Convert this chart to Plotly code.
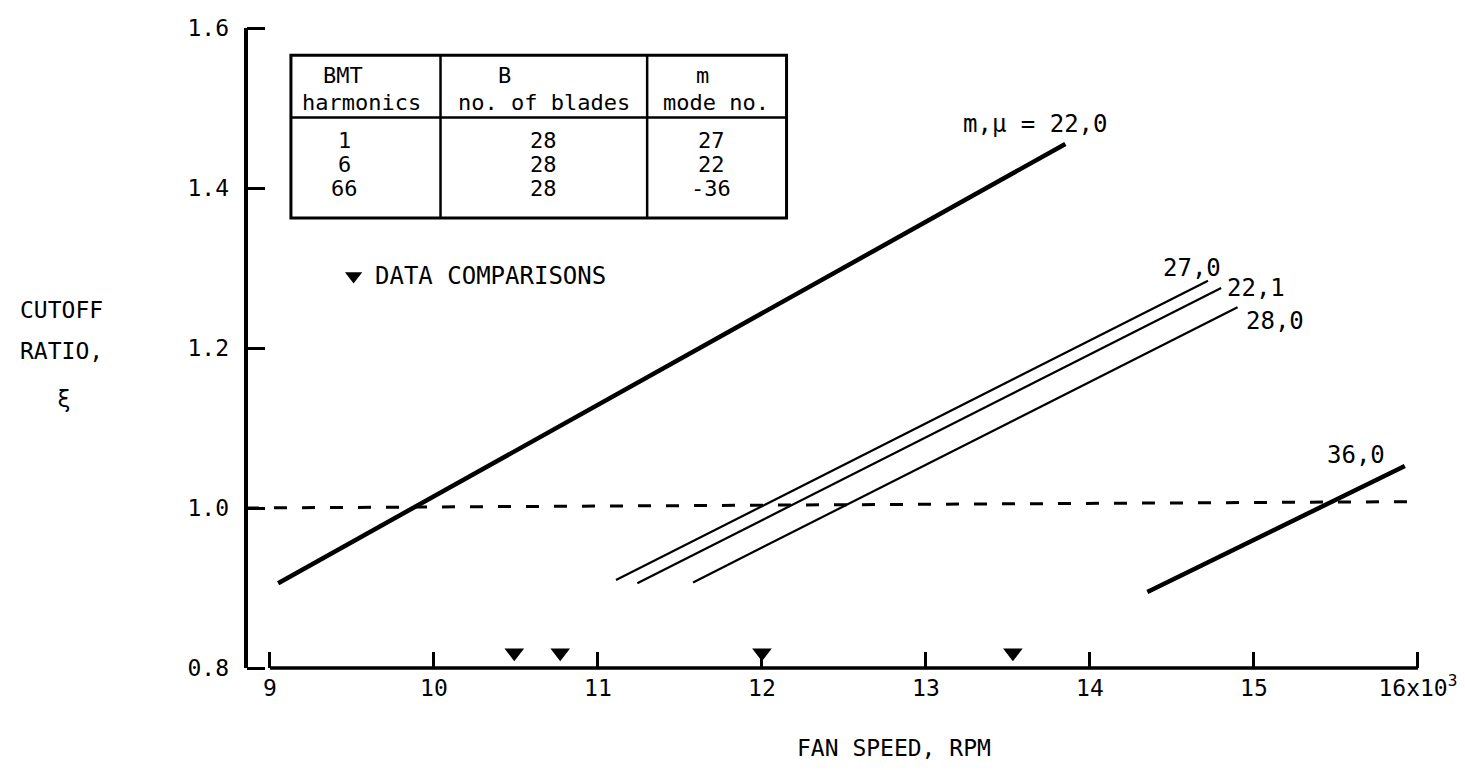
import plotly.graph_objects as go

# cutoff curves, m,mu modes
curve_labels = ["22,0", "27,0", "22,1", "28,0", "36,0"]
x_start = [9.05, 11.11, 11.24, 11.58, 14.35]
y_start = [0.906, 0.910, 0.906, 0.907, 0.895]
x_end = [13.85, 14.72, 14.80, 14.90, 15.92]
y_end = [1.455, 1.284, 1.275, 1.251, 1.0525]
thick = [True, False, False, False, True]

# cutoff ratio = 1 reference (dashed)
cut_x = [8.854, 15.99]
cut_y = [1.0, 1.008]

# data comparison speeds (x10^3 rpm)
data_x = [10.49, 10.77, 12.0, 13.53]
data_y = [0.819, 0.819, 0.819, 0.819]

x_ticks = [9, 10, 11, 12, 13, 14, 15, 16]
x_ticktext = ["9", "10", "11", "12", "13", "14", "15", "16x10<sup>3</sup>"]
y_ticks = [0.8, 1.0, 1.2, 1.4, 1.6]

# table
tbl_head1 = ["BMT", "B", "m"]
tbl_head2 = ["harmonics", "no. of blades", "mode no."]
tbl_harm = ["1", "6", "66"]
tbl_blades = ["28", "28", "28"]
tbl_mode = ["27", "22", "-36"]

FONT = "DejaVu Sans Mono"
XR = [8.7991, 16.2137]
YR = [0.775, 1.62]
X_AXIS_AT = 8.854
Y_AXIS_AT = 0.8

fig = go.Figure()

fig.add_trace(go.Scatter(x=cut_x, y=cut_y, mode="lines",
                         line=dict(color="black", width=3, dash="13px,15px"),
                         hoverinfo="skip", showlegend=False))

for i in range(len(curve_labels)):
    fig.add_trace(go.Scatter(x=[x_start[i], x_end[i]], y=[y_start[i], y_end[i]],
                             mode="lines", name=curve_labels[i],
                             line=dict(color="black", width=4.5 if thick[i] else 2.2),
                             showlegend=False))

fig.add_trace(go.Scatter(x=data_x, y=data_y, mode="markers",
                         marker=dict(symbol="triangle-down", size=17, color="black"),
                         name="DATA COMPARISONS", showlegend=False))

# key marker
fig.add_trace(go.Scatter(x=[9.51], y=[1.29], mode="markers",
                         marker=dict(symbol="triangle-down", size=15, color="black"),
                         hoverinfo="skip", showlegend=False))
fig.add_annotation(x=9.63, y=1.29, text="DATA COMPARISONS", showarrow=False,
                   xanchor="left", yanchor="middle", font=dict(size=24))

# curve labels
lab_pos = [(13.67, 1.48, "m,\u03bc = 22,0"), (14.62, 1.30, "27,0"), (15.01, 1.275, "22,1"),
           (15.13, 1.234, "28,0"), (15.62, 1.066, "36,0")]
for x, y, t in lab_pos:
    fig.add_annotation(x=x, y=y, text=t, showarrow=False, font=dict(size=24))

# axis lines drawn with a gap at the corner like the original
fig.add_shape(type="line", x0=X_AXIS_AT, x1=X_AXIS_AT, y0=y_ticks[0], y1=y_ticks[-1],
              line=dict(color="black", width=4))
fig.add_shape(type="line", x0=x_ticks[0], x1=x_ticks[-1], y0=Y_AXIS_AT, y1=Y_AXIS_AT,
              line=dict(color="black", width=3.5))

# table box
tx0, tx1, ty0, ty1 = 9.128, 12.15, 1.3625, 1.566
col_a, col_b, head_y = 10.04, 11.30, 1.488
fig.add_shape(type="rect", x0=tx0, x1=tx1, y0=ty0, y1=ty1, line=dict(color="black", width=3))
fig.add_shape(type="line", x0=col_a, x1=col_a, y0=ty0, y1=ty1, line=dict(color="black", width=2.5))
fig.add_shape(type="line", x0=col_b, x1=col_b, y0=ty0, y1=ty1, line=dict(color="black", width=2.5))
fig.add_shape(type="line", x0=tx0, x1=tx1, y0=head_y, y1=head_y, line=dict(color="black", width=2.5))

col_h1 = [9.445, 10.43, 11.64]
col_h2 = [9.56, 10.67, 11.72]
col_d = [9.457, 10.67, 11.69]
for j in range(3):
    fig.add_annotation(x=col_h1[j], y=1.541, text=tbl_head1[j], showarrow=False, font=dict(size=22))
    fig.add_annotation(x=col_h2[j], y=1.507, text=tbl_head2[j], showarrow=False, font=dict(size=22))
row_y = [1.459, 1.429, 1.399]
for r in range(3):
    fig.add_annotation(x=col_d[0], y=row_y[r], text=tbl_harm[r], showarrow=False, font=dict(size=22))
    fig.add_annotation(x=col_d[1], y=row_y[r], text=tbl_blades[r], showarrow=False, font=dict(size=22))
    fig.add_annotation(x=col_d[2], y=row_y[r], text=tbl_mode[r], showarrow=False, font=dict(size=22))

# axis titles
fig.add_annotation(xref="paper", yref="paper", x=-0.180, y=0.559, text="CUTOFF",
                   showarrow=False, xanchor="left", font=dict(size=23))
fig.add_annotation(xref="paper", yref="paper", x=-0.180, y=0.4985, text="RATIO,",
                   showarrow=False, xanchor="left", font=dict(size=23))
fig.add_annotation(xref="paper", yref="paper", x=-0.150, y=0.4275, text="\u03be",
                   showarrow=False, font=dict(size=23))
fig.add_annotation(xref="paper", yref="paper", x=0.459, y=-0.111, text="FAN SPEED, RPM",
                   showarrow=False, xanchor="left", font=dict(size=23))

fig.update_layout(
    width=1465, height=770,
    margin=dict(l=229, r=20, t=4, b=90),
    paper_bgcolor="white", plot_bgcolor="white",
    font=dict(family=FONT, color="black", size=23),
    xaxis=dict(range=XR, showgrid=False, zeroline=False, showline=False,
               anchor="free", position=(Y_AXIS_AT - YR[0]) / (YR[1] - YR[0]),
               tickmode="array", tickvals=x_ticks, ticktext=x_ticktext,
               ticks="inside", ticklen=16, tickwidth=3, tickcolor="black",
               ticklabelstandoff=4),
    yaxis=dict(range=YR, showgrid=False, zeroline=False, showline=False,
               anchor="free", position=(X_AXIS_AT - XR[0]) / (XR[1] - XR[0]),
               tickmode="array", tickvals=y_ticks, tickformat=".1f",
               ticks="inside", ticklen=18, tickwidth=3, tickcolor="black",
               ticklabelstandoff=17),
)

fig.write_html("out.html")
